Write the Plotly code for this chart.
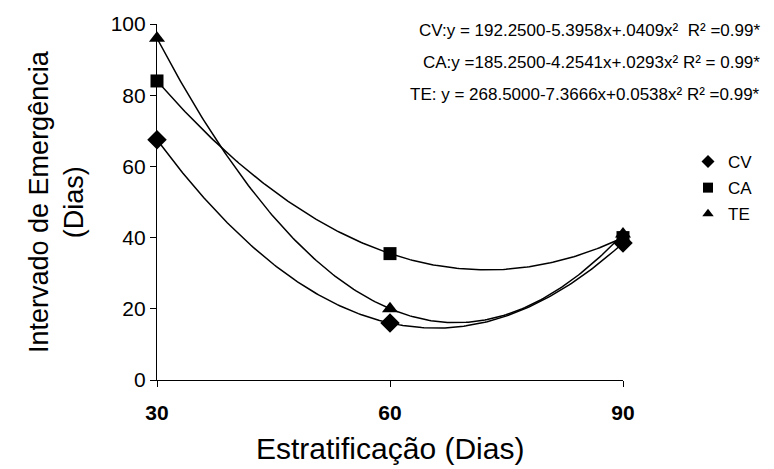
import numpy as np
import plotly.graph_objects as go

# Data
estratificacao = [30, 60, 90]
cv = [67.5, 16, 38.5]
ca = [84, 35.5, 40]
te = [96, 20, 41]
series_names = ["CV", "CA", "TE"]
symbols = ["diamond", "square", "triangle-up"]
equations = [
    "CV:y = 192.2500-5.3958x+.0409x²  R² =0.99*",
    "CA:y =185.2500-4.2541x+.0293x² R² = 0.99*",
    "TE: y = 268.5000-7.3666x+0.0538x² R² =0.99*",
]
x_ticks = [30, 60, 90]
y_ticks = [0, 20, 40, 60, 80, 100]
x_title = "Estratificação (Dias)"
y_title = "Intervado de Emergência<br>(Dias)"

FONT = "Liberation Sans, Arial, sans-serif"
marker_sizes = [15, 13, 14]
legend_marker_sizes = [10, 10, 10]

# plot area in pixels
L, R, T, B = 157, 623, 18, 380
W, H = R - L, B - T

def px_x(p):
    return (p - L) / W

def px_y(p):
    return 1 - (p - T) / H

fig = go.Figure()
xs = np.linspace(min(estratificacao), max(estratificacao), 200)
series = [cv, ca, te]
for name, ys in zip(series_names, series):
    # quadratic trendline fitted to the data points
    coef = np.polyfit(estratificacao, ys, 2)
    fig.add_trace(go.Scatter(x=xs, y=np.polyval(coef, xs), mode="lines",
                             line=dict(color="black", width=1.5),
                             showlegend=False, hoverinfo="skip"))
for name, ys, sym, ms in zip(series_names, series, symbols, marker_sizes):
    fig.add_trace(go.Scatter(x=estratificacao, y=ys, mode="markers", name=name,
                             marker=dict(symbol=sym, size=ms, color="black"),
                             showlegend=False, cliponaxis=False))
# legend entries (smaller symbols as in the original legend)
for name, sym, ms in zip(series_names, symbols, legend_marker_sizes):
    fig.add_trace(go.Scatter(x=[None], y=[None], mode="markers", name=name,
                             legendgroup=name,
                             marker=dict(symbol=sym, size=ms, color="black")))

for i, eq in enumerate(equations):
    fig.add_annotation(text=eq, xref="paper", yref="paper",
                       x=px_x(762), y=px_y(25 + 32.5 * i),
                       xanchor="right", yanchor="middle", showarrow=False,
                       font=dict(family=FONT, size=17, color="black"))

# axis titles
fig.add_annotation(text=x_title, xref="paper", yref="paper",
                   x=px_x(390), y=px_y(450), xanchor="center", yanchor="middle",
                   showarrow=False, font=dict(family=FONT, size=30, color="black"))
fig.add_annotation(text=y_title, xref="paper", yref="paper",
                   x=px_x(56), y=px_y(199), xanchor="center", yanchor="middle",
                   textangle=-90, showarrow=False,
                   font=dict(family=FONT, size=27, color="black"))

fig.update_layout(
    width=774, height=469,
    margin=dict(l=L, r=774 - R, t=T, b=469 - B),
    paper_bgcolor="white", plot_bgcolor="white",
    font=dict(family=FONT, color="black"),
    legend=dict(x=px_x(688), y=px_y(140), xanchor="left", yanchor="top",
                font=dict(family=FONT, size=17, color="black"),
                bgcolor="rgba(0,0,0,0)", traceorder="grouped", tracegroupgap=1,
                itemwidth=30),
    xaxis=dict(range=[30, 90], tickvals=x_ticks, showgrid=False, zeroline=False,
               showline=True, linecolor="black", linewidth=1.2,
               ticks="outside", ticklen=6, tickcolor="black", ticklabelstandoff=8,
               tickfont=dict(family=FONT, size=21, color="black", weight="bold")),
    yaxis=dict(range=[0, 100], tickvals=y_ticks, showgrid=False, zeroline=False,
               showline=True, linecolor="black", linewidth=1.2,
               ticks="outside", ticklen=6, tickcolor="black",
               tickfont=dict(family=FONT, size=21, color="black")),
)

fig.write_html("out.html")
